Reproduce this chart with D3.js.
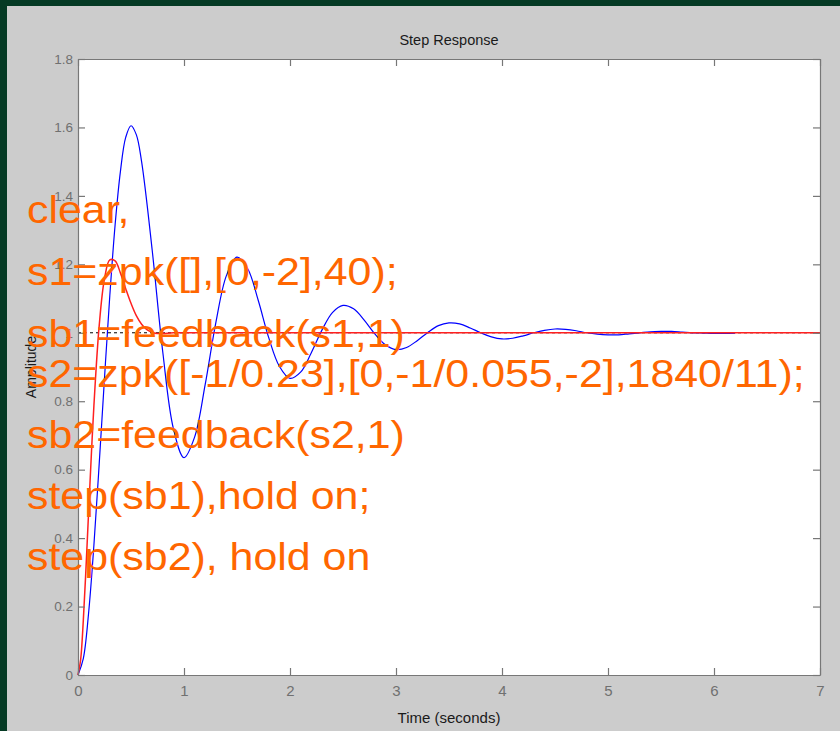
<!DOCTYPE html>
<html>
<head>
<meta charset="utf-8">
<script src="https://cdn.jsdelivr.net/npm/d3@7"></script>
<style>
	html, body { margin: 0; padding: 0; background: #cccccc; }
	svg { display: block; }
</style>
</head>
<body>
<div id="chart"></div>
<script>
// step response of sb1 (blue) and sb2 (red)
var sb1Time = [0, 0.05, 0.1, 0.15, 0.2, 0.25, 0.3, 0.35, 0.4, 0.45, 0.5, 0.55, 0.6, 0.7, 0.8, 0.9,
	1.0, 1.1, 1.2, 1.3, 1.4, 1.5, 1.6, 1.7, 1.8, 1.9, 2.0, 2.1, 2.2, 2.3, 2.4, 2.5, 2.6, 2.7, 2.8, 2.9,
	3.0, 3.1, 3.2, 3.3, 3.4, 3.5, 3.6, 3.7, 3.8, 3.9, 4.0, 4.1, 4.2, 4.3, 4.4, 4.5, 4.6, 4.7, 4.8, 4.9,
	5.0, 5.1, 5.2, 5.3, 5.4, 5.5, 5.6, 5.7, 5.8, 5.9, 6.0, 6.1, 6.2];
var sb1Amp = [0, 0.048, 0.181, 0.379, 0.617, 0.868, 1.108, 1.315, 1.471, 1.571, 1.605, 1.579, 1.500, 1.241, 0.943, 0.720,
	0.635, 0.695, 0.849, 1.029, 1.167, 1.221, 1.188, 1.095, 0.985, 0.902, 0.867, 0.885, 0.941, 1.007, 1.059, 1.080, 1.070, 1.037, 0.997, 0.965,
	0.951, 0.957, 0.977, 1.001, 1.021, 1.029, 1.026, 1.014, 1.000, 0.988, 0.982, 0.984, 0.991, 1.000, 1.007, 1.011, 1.010, 1.006, 1.000, 0.996,
	0.994, 0.994, 0.997, 1.000, 1.003, 1.004, 1.004, 1.002, 1.000, 0.999, 0.998, 0.998, 0.999];

var sb2Time = [0, 0.025, 0.05, 0.075, 0.1, 0.125, 0.15, 0.2, 0.25, 0.3, 0.35, 0.4, 0.45, 0.5, 0.55, 0.6, 0.65, 0.7, 0.75, 0.8, 0.9, 1.0, 7.0];
var sb2Amp = [0, 0.045, 0.159, 0.310, 0.476, 0.638, 0.787, 1.021, 1.158, 1.213, 1.210, 1.175, 1.129, 1.086, 1.050, 1.025, 1.009, 1.001, 0.998, 0.998, 1.000, 1.000, 1.000];

var xTicks = [0, 1, 2, 3, 4, 5, 6, 7];
var yTicks = [0, 0.2, 0.4, 0.6, 0.8, 1, 1.2, 1.4, 1.6, 1.8];
var steadyState = 1;

var codeLines = [
	{ text: "clear,", y: 223 },
	{ text: "s1=zpk([],[0,-2],40);", y: 285 },
	{ text: "sb1=feedback(s1,1)", y: 347 },
	{ text: "s2=zpk([-1/0.23],[0,-1/0.055,-2],1840/11);", y: 387 },
	{ text: "sb2=feedback(s2,1)", y: 448 },
	{ text: "step(sb1),hold on;", y: 509 },
	{ text: "step(sb2), hold on", y: 570 }
];

var W = 840, H = 731;
var margin = {top: 59, right: 20, bottom: 56, left: 78},
    width = W - margin.left - margin.right,
    height = H - margin.top - margin.bottom;

var font = "'Liberation Sans', Arial, sans-serif";

var svg = d3.select("#chart").append("svg")
    .attr("width", W)
    .attr("height", H);

// slide frame
svg.append("rect").attr("width", W).attr("height", H).attr("fill", "#cccccc");
svg.append("rect").attr("width", W).attr("height", 6).attr("fill", "#053a24");
svg.append("rect").attr("width", 7).attr("height", H).attr("fill", "#053a24");

var g = svg.append("g")
    .attr("transform", "translate(" + margin.left + "," + margin.top + ")");

var x = d3.scaleLinear().domain([0, 7]).range([0, width]);
var y = d3.scaleLinear().domain([0, 1.8]).range([height, 0]);

g.append("rect")
    .attr("width", width)
    .attr("height", height)
    .attr("fill", "#ffffff");

// steady state dashed line
g.append("line")
    .attr("x1", x(0)).attr("x2", x(7))
    .attr("y1", y(steadyState)).attr("y2", y(steadyState))
    .attr("stroke", "#000")
    .attr("stroke-width", 1)
    .attr("stroke-dasharray", "3,3");

var line = d3.line()
    .x(function(d) { return x(d[0]); })
    .y(function(d) { return y(d[1]); })
    .curve(d3.curveCatmullRom.alpha(0.5));

g.append("path")
    .datum(d3.zip(sb1Time, sb1Amp))
    .attr("fill", "none")
    .attr("stroke", "#0000ff")
    .attr("stroke-width", 1.2)
    .attr("d", line);

g.append("path")
    .datum(d3.zip(sb2Time, sb2Amp))
    .attr("fill", "none")
    .attr("stroke", "#ff2020")
    .attr("stroke-width", 1.5)
    .attr("d", line);

// axes, ticks pointing inward on all four sides
function styleAxis(sel) {
	sel.selectAll("path, line").attr("stroke", "#777777").attr("stroke-width", 1.2);
	sel.selectAll("text").attr("fill", "#707070").attr("font-family", font);
}

g.append("g")
    .attr("transform", "translate(0," + height + ")")
    .call(d3.axisBottom(x).tickValues(xTicks).tickSizeInner(-7).tickSizeOuter(0).tickPadding(10).tickFormat(d3.format("d")))
    .call(styleAxis)
    .selectAll("text").attr("font-size", 15);

g.append("g")
    .call(d3.axisTop(x).tickValues(xTicks).tickSizeInner(-7).tickSizeOuter(0).tickFormat(""))
    .call(styleAxis);

g.append("g")
    .call(d3.axisLeft(y).tickValues(yTicks).tickSizeInner(-7).tickSizeOuter(0).tickPadding(5).tickFormat(d3.format("~g")))
    .call(styleAxis)
    .selectAll("text").attr("font-size", 13.5);

g.append("g")
    .attr("transform", "translate(" + width + ",0)")
    .call(d3.axisRight(y).tickValues(yTicks).tickSizeInner(-7).tickSizeOuter(0).tickFormat(""))
    .call(styleAxis);

// titles
svg.append("text")
    .attr("x", margin.left + width / 2)
    .attr("y", 45)
    .attr("text-anchor", "middle")
    .attr("font-family", font)
    .attr("font-size", 14.5)
    .attr("fill", "#1a1a1a")
    .text("Step Response");

svg.append("text")
    .attr("x", margin.left + width / 2)
    .attr("y", 723)
    .attr("text-anchor", "middle")
    .attr("font-family", font)
    .attr("font-size", 15)
    .attr("fill", "#1a1a1a")
    .text("Time (seconds)");

svg.append("text")
    .attr("transform", "translate(36," + (margin.top + height / 2) + ") rotate(-90)")
    .attr("text-anchor", "middle")
    .attr("font-family", font)
    .attr("font-size", 14)
    .attr("fill", "#1a1a1a")
    .text("Amplitude");

// orange code overlay from the slide
var code = svg.append("g")
    .attr("transform", "translate(27,0) scale(1.1,1)");

code.selectAll("text")
    .data(codeLines)
  .enter().append("text")
    .attr("x", 0)
    .attr("y", function(d) { return d.y; })
    .attr("font-family", font)
    .attr("font-size", 39)
    .attr("fill", "#ff6600")
    .text(function(d) { return d.text; });
</script>
</body>
</html>
